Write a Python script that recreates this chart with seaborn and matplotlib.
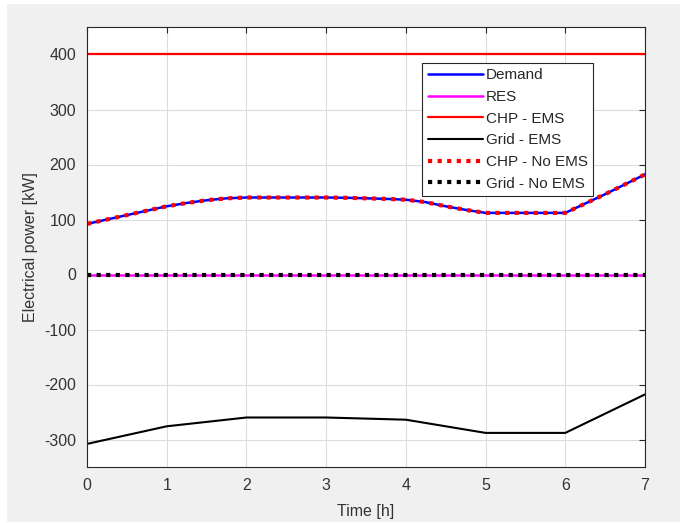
import matplotlib
matplotlib.use("Agg")
import matplotlib.pyplot as plt
from matplotlib.patches import Rectangle
import seaborn as sns
import numpy as np

# ---- data ----
t_fine = [0, 0.25, 0.5, 0.75, 1, 1.25, 1.5, 1.75, 2, 2.25, 2.5, 2.75, 3, 3.25, 3.5,
          3.75, 4, 4.25, 4.5, 4.75, 5, 5.25, 5.5, 5.75, 6, 6.25, 6.5, 6.75, 7]
demand = [92, 100, 108, 116, 124, 130, 135, 138.5, 140, 140, 140, 140, 140, 139.5, 138.5,
          137.5, 136, 131.5, 124, 117.5, 112, 112, 112, 112, 112, 129, 146, 164, 182]
chp_no_ems = [92, 100, 108, 116, 124, 130, 135, 138.5, 140, 140, 140, 140, 140, 139.5, 138.5,
              137.5, 136, 131.5, 124, 117.5, 112, 112, 112, 112, 112, 129, 146, 164, 182]
t_hour = [0, 1, 2, 3, 4, 5, 6, 7]
res = [0, 0, 0, 0, 0, 0, 0, 0]
chp_ems = [400, 400, 400, 400, 400, 400, 400, 400]
grid_ems = [-308, -276, -260, -260, -264, -288, -288, -218]
grid_no_ems = [0, 0, 0, 0, 0, 0, 0, 0]

x_ticks = [0, 1, 2, 3, 4, 5, 6, 7]
y_ticks = [-300, -200, -100, 0, 100, 200, 300, 400]

sns.set_theme(style="white")
plt.rcParams['font.family'] = ['Liberation Sans', 'DejaVu Sans']
plt.rcParams['axes.unicode_minus'] = False

fig = plt.figure(figsize=(6.86, 5.23), dpi=100, facecolor='white')
fig.patches.append(Rectangle((7/686, 1/523), 673/686, 518/523, transform=fig.transFigure,
                             facecolor='#f0f0f0', edgecolor='none', zorder=-10))
ax = fig.add_axes([87/686, (523-467)/523, 558/686, 440/523])
ax.set_facecolor('white')

sns.lineplot(x=t_fine, y=demand, ax=ax, color='#0000ff', lw=1.8, label='Demand')
sns.lineplot(x=t_hour, y=res, ax=ax, color='#ff00ff', lw=1.8, label='RES')
sns.lineplot(x=t_hour, y=chp_ems, ax=ax, color='#ff0000', lw=1.6, label='CHP - EMS')
sns.lineplot(x=t_hour, y=grid_ems, ax=ax, color='black', lw=1.5, label='Grid - EMS')
sns.lineplot(x=t_fine, y=chp_no_ems, ax=ax, color='#ff0000', lw=3.0, label='CHP - No EMS')
ax.lines[-1].set_linestyle((0, (1, 1.3)))
sns.lineplot(x=t_hour, y=grid_no_ems, ax=ax, color='black', lw=3.0, label='Grid - No EMS')
ax.lines[-1].set_linestyle((0, (1, 1.3)))

ax.set_xlim(0, 7)
ax.set_ylim(-350, 450)
ax.set_xticks(x_ticks)
ax.set_yticks(y_ticks)
ax.grid(True, color='#dcdcdc', lw=0.8)
ax.set_axisbelow(True)
ax.tick_params(direction='in', length=4, width=0.8, colors='#262626', labelsize=11.5,
               top=True, right=True, labelcolor='#333333', pad=8)
for s in ax.spines.values():
    s.set_color('#262626')
    s.set_linewidth(0.8)
    s.set_visible(True)
ax.set_xlabel('Time [h]', fontsize=11.5, color='#333333', labelpad=8)
ax.set_ylabel('Electrical power [kW]', fontsize=11.5, color='#333333', labelpad=4)

leg = ax.legend(loc='upper right', bbox_to_anchor=((593-87)/558, (467-63)/440),
                fontsize=11, frameon=True, fancybox=False, handlelength=3.6,
                handletextpad=0.2, borderpad=0.35, labelspacing=0.5, borderaxespad=0)
leg.get_frame().set_edgecolor('#262626')
leg.get_frame().set_linewidth(0.8)
leg.get_frame().set_facecolor('white')
leg.get_frame().set_alpha(1)

fig.savefig('out.png', dpi=100, facecolor=fig.get_facecolor())
